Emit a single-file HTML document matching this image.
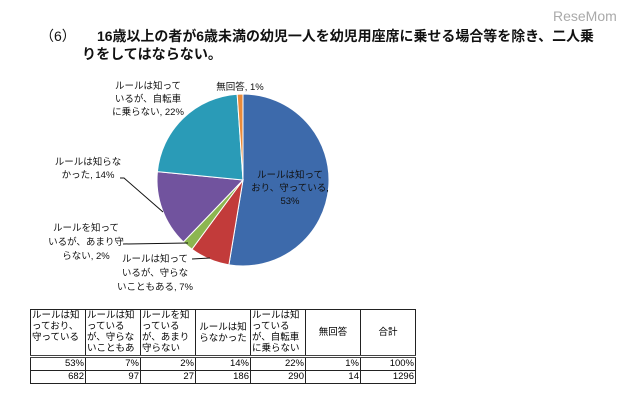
<!DOCTYPE html>
<html><head><meta charset="utf-8">
<style>
html,body{margin:0;padding:0;background:#fff;}
body{width:640px;height:403px;overflow:hidden;position:relative;font-family:"Liberation Sans","Noto Sans CJK JP",sans-serif;}
svg text{font-family:"Liberation Sans","Noto Sans CJK JP",sans-serif;}
table{position:absolute;left:30px;top:309px;border-collapse:collapse;font-size:9.5px;color:#000;table-layout:fixed;width:375px;}
td{border:1px solid #222;padding:0 1px;line-height:11px;overflow:hidden;width:52px;}
td.h{height:45px;vertical-align:top;}
td.c{text-align:center;vertical-align:middle;}
td.n{text-align:right;height:12px;font-size:9.5px;line-height:12px;}
tr.sep td{border-top:3px double #444;}
</style></head><body>
<svg width="640" height="403" style="position:absolute;left:0;top:0">
<text x="553" y="21" font-size="14" fill="#aaa">ReseMom</text>
<text x="40" y="41" font-size="14" fill="#111">（6）</text>
<text x="97" y="41" font-size="14" fill="#111" font-weight="bold" textLength="497" lengthAdjust="spacingAndGlyphs">16歳以上の者が6歳未満の幼児一人を幼児用座席に乗せる場合等を除き、二人乗</text>
<text x="82" y="59" font-size="14" fill="#111" font-weight="bold" textLength="140" lengthAdjust="spacingAndGlyphs">りをしてはならない。</text>
<g id="pie"></g>
<g font-size="9.5" fill="#111">
<text x="290" y="178" text-anchor="middle"><tspan x="290">ルールは知って</tspan><tspan x="290" dy="13">おり、守っている,</tspan><tspan x="290" dy="13">53%</tspan></text>
<text x="148" y="89" text-anchor="middle"><tspan x="148">ルールは知って</tspan><tspan x="148" dy="13">いるが、自転車</tspan><tspan x="148" dy="13">に乗らない, 22%</tspan></text>
<text x="240" y="90" text-anchor="middle">無回答, 1%</text>
<text x="88" y="165" text-anchor="middle"><tspan x="88">ルールは知らな</tspan><tspan x="88" dy="13">かった, 14%</tspan></text>
<text x="86" y="231" text-anchor="middle"><tspan x="86">ルールを知って</tspan><tspan x="86" dy="14">いるが、あまり守</tspan><tspan x="86" dy="14">らない, 2%</tspan></text>
<text x="155" y="262" text-anchor="middle"><tspan x="155">ルールは知って</tspan><tspan x="155" dy="14">いるが、守らな</tspan><tspan x="155" dy="14">いこともある, 7%</tspan></text>
<polyline points="120,178 124,178 163,212" fill="none" stroke="#111" stroke-width="1"/>
<line x1="123" y1="244" x2="188" y2="243" stroke="#111"/>
<line x1="192" y1="259" x2="210" y2="258" stroke="#111"/>
</g>
</svg>
<table>
<tr><td class="h">ルールは知っており、守っている</td><td class="h">ルールは知っているが、守らないこともあ</td><td class="h">ルールを知っているが、あまり守らない</td><td class="h c">ルールは知らなかった</td><td class="h">ルールは知っているが、自転車に乗らない</td><td class="h c">無回答</td><td class="h c">合計</td></tr>
<tr class="sep"><td class="n">53%</td><td class="n">7%</td><td class="n">2%</td><td class="n">14%</td><td class="n">22%</td><td class="n">1%</td><td class="n">100%</td></tr>
<tr><td class="n">682</td><td class="n">97</td><td class="n">27</td><td class="n">186</td><td class="n">290</td><td class="n">14</td><td class="n">1296</td></tr>
</table>
<script>
const categories = ["守っている","守らないこともある","あまり守らない","知らなかった","自転車に乗らない","無回答"];
const counts = [682, 97, 27, 186, 290, 14];
const colors = ["#3d6aab","#c23b3a","#8cb650","#71539e","#2a9bb7","#e98b3b"];
const cx = 243, cy = 180, r = 86;
const g = document.getElementById('pie');
const total = counts.reduce((a,b)=>a+b,0);
let a0 = -Math.PI/2;
counts.forEach((v,i)=>{
  const a1 = a0 + v/total*2*Math.PI;
  const x0 = cx + r*Math.cos(a0), y0 = cy + r*Math.sin(a0);
  const x1 = cx + r*Math.cos(a1), y1 = cy + r*Math.sin(a1);
  const large = (a1-a0) > Math.PI ? 1 : 0;
  const p = document.createElementNS('http://www.w3.org/2000/svg','path');
  p.setAttribute('d', `M${cx},${cy} L${x0},${y0} A${r},${r} 0 ${large} 1 ${x1},${y1} Z`);
  p.setAttribute('fill', colors[i]);
  p.setAttribute('stroke', '#fff');
  p.setAttribute('stroke-width', '1');
  
  
  g.appendChild(p);
  a0 = a1;
});
</script>
</body></html>
